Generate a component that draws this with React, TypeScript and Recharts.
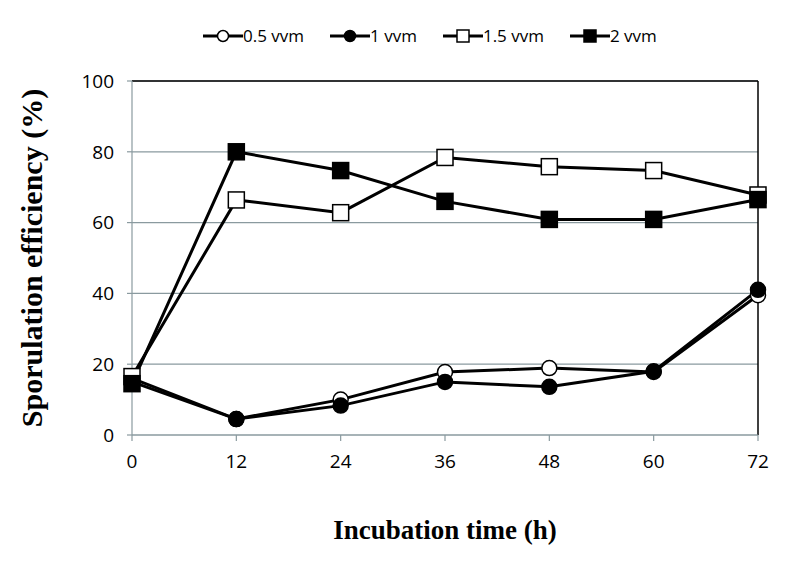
import { LineChart, Line, XAxis, YAxis, CartesianGrid, ReferenceLine, Label } from "recharts";

const hours = [0, 12, 24, 36, 48, 60, 72];
const vvm05 = [16, 4.5, 10, 17.8, 18.9, 17.8, 39.5];
const vvm1 = [15, 4.5, 8.3, 15, 13.6, 18, 41];
const vvm15 = [16.5, 66.4, 62.8, 78.4, 75.8, 74.7, 67.8];
const vvm2 = [14.5, 80, 74.7, 66, 60.9, 60.9, 66.5];
const yTicks = [0, 20, 40, 60, 80, 100];

const data = hours.map((h, i) => ({
  h,
  a: vvm05[i],
  b: vvm1[i],
  c: vvm15[i],
  d: vvm2[i],
}));

const series = [
  { key: "a", name: "0.5 vvm", shape: "circle", fill: "#fff" },
  { key: "b", name: "1 vvm", shape: "circle", fill: "#000" },
  { key: "c", name: "1.5 vvm", shape: "square", fill: "#fff" },
  { key: "d", name: "2 vvm", shape: "square", fill: "#000" },
];

const axisColor = "#8a9a9f";
const tickFont = { fill: "#000", fontSize: 19, fontFamily: "'Open Sans', sans-serif" };
const titleFont = { fontFamily: "'Liberation Serif', serif", fontWeight: "bold", fill: "#000" };

const makeDot = (shape: string, fill: string) => (props: any) => {
  const { cx, cy, index } = props;
  if (cx == null || cy == null) return null;
  if (shape === "circle") {
    return <circle key={index} cx={cx} cy={cy} r={7.5} fill={fill} stroke="#000" strokeWidth={1.5} />;
  }
  return <rect key={index} x={cx - 8} y={cy - 8} width={16} height={16} fill={fill} stroke="#000" strokeWidth={1.5} />;
};

// legend drawn as plain html so it doesn't push the plot area down
const ChartLegend = () => (
  <div
    style={{
      position: "absolute",
      left: 203,
      top: 26,
      display: "flex",
      gap: 26,
      fontFamily: "'Open Sans', sans-serif",
      fontSize: 17,
      lineHeight: "20px",
    }}
  >
    {series.map((s) => (
      <div key={s.key} style={{ display: "flex", alignItems: "center" }}>
        <svg width={40} height={20}>
          <line x1={0} y1={10} x2={40} y2={10} stroke="#000" strokeWidth={3} />
          {s.shape === "circle" ? (
            <circle cx={20} cy={10} r={5.5} fill={s.fill} stroke="#000" strokeWidth={1.5} />
          ) : (
            <rect x={14} y={4} width={12} height={12} fill={s.fill} stroke="#000" strokeWidth={1.5} />
          )}
        </svg>
        <span>{s.name}</span>
      </div>
    ))}
  </div>
);

export default function App() {
  return (
    <div style={{ position: "absolute", left: 0, top: 0, width: 791, height: 562, background: "#fff" }}>
      <ChartLegend />
      <LineChart width={791} height={562} data={data} margin={{ top: 81, right: 33, bottom: 97, left: 72 }}>
        <CartesianGrid vertical={false} stroke={axisColor} strokeWidth={1.2} />
        <XAxis
          dataKey="h"
          type="number"
          domain={[0, 72]}
          ticks={hours}
          height={30}
          stroke={axisColor}
          strokeWidth={1.2}
          tickSize={6}
          tickMargin={14}
          tick={tickFont}
        >
          <Label value="Incubation time (h)" position="bottom" offset={55} style={{ ...titleFont, fontSize: 27 }} />
        </XAxis>
        <YAxis
          domain={[0, 100]}
          ticks={yTicks}
          width={60}
          stroke={axisColor}
          strokeWidth={1.2}
          tickSize={5}
          tickMargin={13}
          tick={tickFont}
        >
          <Label
            value="Sporulation efficiency (%)"
            angle={-90}
            position="insideLeft"
            offset={-41}
            style={{ ...titleFont, fontSize: 30, textAnchor: "middle" }}
          />
        </YAxis>
        <ReferenceLine y={100} stroke="#000" strokeWidth={1.5} />
        <ReferenceLine x={72} stroke="#000" strokeWidth={1.5} />
        {series.map((s) => (
          <Line
            key={s.key}
            dataKey={s.key}
            name={s.name}
            stroke="#000"
            strokeWidth={3}
            dot={makeDot(s.shape, s.fill)}
            activeDot={false}
            isAnimationActive={false}
          />
        ))}
      </LineChart>
    </div>
  );
}
